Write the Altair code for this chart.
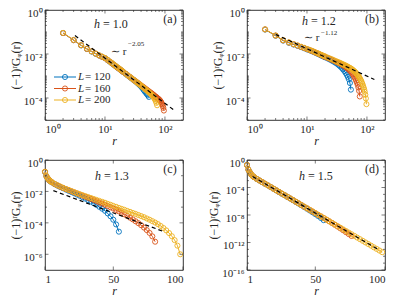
import altair as alt
import pandas as pd

LABELS = ["L = 120", "L = 160", "L = 200"]
COLORS = ["#0072BD", "#D95319", "#EDB120"]
FONT = "Liberation Serif"
INK = "#262626"
W, H = 138, 110


def rr(a, b, step=1):
    return list(range(a, b + 1, step))


# ---------------- Panel (a): h = 1.0  (log10 of (-1)^r G) ----------------
A_R = [rr(2, 20) + rr(22, 54, 2), rr(2, 20) + rr(22, 96, 2), rr(2, 20) + rr(22, 74, 2)]
A_G_120 = [-1.05, -1.37, -1.61, -1.77, -1.89, -1.99, -2.07, -2.13, -2.19, -2.27, -2.35, -2.42, -2.49,
           -2.55, -2.61, -2.66, -2.71, -2.76, -2.81,
           -2.90, -2.98, -3.05, -3.12, -3.18, -3.24, -3.30, -3.36, -3.42, -3.48, -3.55, -3.63, -3.70,
           -3.76, -3.82, -3.88, -3.95]
A_G_160 = [-1.05, -1.37, -1.60, -1.77, -1.88, -1.98, -2.07, -2.13, -2.19, -2.27, -2.34, -2.42, -2.48,
           -2.55, -2.61, -2.66, -2.71, -2.76, -2.81,
           -2.89, -2.97, -3.04, -3.11, -3.17, -3.23, -3.28, -3.33, -3.38, -3.43, -3.47, -3.51, -3.55,
           -3.59, -3.63, -3.66, -3.70, -3.73, -3.76, -3.79, -3.82, -3.85, -3.88, -3.91, -3.94, -3.96,
           -3.99, -4.02, -4.04, -4.07, -4.10, -4.14, -4.18, -4.23, -4.29, -4.36, -4.45, -4.57]
A_G_200 = [-1.04, -1.36, -1.60, -1.76, -1.88, -1.98, -2.06, -2.12, -2.18, -2.26, -2.34, -2.41, -2.48,
           -2.54, -2.60, -2.65, -2.70, -2.75, -2.80,
           -2.89, -2.97, -3.04, -3.11, -3.17, -3.23, -3.29, -3.34, -3.39, -3.44, -3.49, -3.53, -3.58,
           -3.62, -3.66, -3.70, -3.74, -3.78, -3.82, -3.86, -3.90, -3.95, -4.00, -4.06, -4.13, -4.22,
           -4.33]
A_FIT_R = [3.16, 138]
A_FIT_G = [-1.16, -4.53]

# ---------------- Panel (b): h = 1.2 ----------------
B_R = [rr(2, 20) + rr(22, 54, 2), rr(2, 20) + rr(22, 76, 2), rr(2, 20) + rr(22, 98, 2)]
B_G_120 = [-0.89, -1.17, -1.39, -1.49, -1.57, -1.63, -1.69, -1.74, -1.79, -1.83, -1.87, -1.91, -1.95,
           -1.99, -2.02, -2.06, -2.09, -2.12, -2.15,
           -2.20, -2.25, -2.30, -2.35, -2.40, -2.45, -2.51, -2.57, -2.63, -2.70, -2.77, -2.85, -2.94,
           -3.04, -3.15, -3.32, -3.62]
B_G_160 = [-0.88, -1.16, -1.38, -1.48, -1.56, -1.62, -1.68, -1.73, -1.78, -1.82, -1.86, -1.90, -1.94,
           -1.97, -2.01, -2.04, -2.07, -2.10, -2.13,
           -2.18, -2.22, -2.26, -2.30, -2.34, -2.38, -2.41, -2.45, -2.48, -2.52, -2.55, -2.59, -2.63,
           -2.67, -2.71, -2.76, -2.80, -2.85, -2.92, -2.99, -3.06, -3.13, -3.21, -3.30, -3.40, -3.52,
           -3.68, -3.93]
B_G_200 = [-0.88, -1.16, -1.37, -1.47, -1.55, -1.61, -1.67, -1.72, -1.77, -1.81, -1.85, -1.89, -1.93,
           -1.96, -2.00, -2.03, -2.06, -2.09, -2.11,
           -2.16, -2.20, -2.24, -2.28, -2.32, -2.35, -2.38, -2.41, -2.44, -2.47, -2.50, -2.52, -2.55,
           -2.58, -2.61, -2.63, -2.66, -2.69, -2.72, -2.76, -2.79, -2.83, -2.87, -2.91, -2.95, -3.00,
           -3.05, -3.10, -3.16, -3.22, -3.29, -3.36, -3.44, -3.52, -3.61, -3.72, -3.85, -4.02, -4.28]
B_FIT_R = [3, 133]
B_FIT_G = [-1.11, -3.16]

# ---------------- Panel (c): h = 1.3 ----------------
C_R = [rr(1, 6) + rr(8, 54, 2), rr(1, 6) + rr(8, 80, 2), rr(1, 6) + rr(8, 98, 2)]
C_G_120 = [-0.76, -1.03, -1.19, -1.29, -1.37, -1.43,
           -1.54, -1.63, -1.72, -1.80, -1.88, -1.96, -2.04, -2.12, -2.20, -2.28, -2.37, -2.46, -2.55,
           -2.65, -2.75, -2.86, -2.98, -3.10, -3.23, -3.40, -3.58, -3.80, -4.10, -4.56]
C_G_160 = [-0.75, -1.02, -1.18, -1.29, -1.36, -1.42,
           -1.53, -1.62, -1.70, -1.78, -1.85, -1.92, -1.99, -2.06, -2.13, -2.20, -2.27, -2.34, -2.41,
           -2.48, -2.55, -2.62, -2.70, -2.77, -2.85, -2.93, -3.01, -3.09, -3.18, -3.27, -3.36, -3.46,
           -3.56, -3.67, -3.78, -3.90, -4.02, -4.15, -4.30, -4.46, -4.64, -4.86, -5.20]
C_G_200 = [-0.75, -1.02, -1.18, -1.28, -1.36, -1.42,
           -1.52, -1.61, -1.69, -1.77, -1.84, -1.91, -1.98, -2.05, -2.12, -2.18, -2.24, -2.30, -2.36,
           -2.42, -2.48, -2.54, -2.60, -2.66, -2.72, -2.79, -2.85, -2.92, -2.98, -3.05, -3.11, -3.17,
           -3.24, -3.30, -3.37, -3.43, -3.50, -3.57, -3.64, -3.72, -3.80, -3.89, -3.98, -4.08, -4.20,
           -4.33, -4.48, -4.65, -4.85, -5.10, -5.45, -6.00]
C_FIT_R = [7, 86]
C_FIT_G = [-1.95, -4.55]

# ---------------- Panel (d): h = 1.5 ----------------
D_R = [rr(1, 6) + rr(8, 56, 2), rr(1, 6) + rr(8, 76, 2), rr(1, 6) + rr(8, 98, 2)]
D_G_120 = [-0.74, -1.41, -1.81, -2.09, -2.31, -2.49,
           -2.76, -2.99, -3.23, -3.46, -3.70, -3.94, -4.18, -4.42, -4.66, -4.90, -5.13, -5.37, -5.61,
           -5.85, -6.09, -6.33, -6.58, -6.83, -7.08, -7.34, -7.60, -7.87, -8.14, -8.43, -8.75]
D_G_160 = [-0.73, -1.40, -1.80, -2.08, -2.30, -2.48,
           -2.75, -2.98, -3.22, -3.45, -3.69, -3.93, -4.17, -4.41, -4.64, -4.88, -5.12, -5.35, -5.59,
           -5.83, -6.07, -6.30, -6.54, -6.78, -7.02, -7.25, -7.49, -7.73, -7.97, -8.20, -8.44, -8.68,
           -8.92, -9.16, -9.42, -9.68, -9.95, -10.22, -10.50, -10.78, -11.05]
D_G_200 = [-0.73, -1.40, -1.80, -2.08, -2.30, -2.48,
           -2.75, -2.98, -3.22, -3.45, -3.69, -3.93, -4.17, -4.40, -4.64, -4.88, -5.11, -5.35, -5.59,
           -5.82, -6.06, -6.30, -6.54, -6.77, -7.01, -7.25, -7.48, -7.72, -7.96, -8.19, -8.43, -8.67,
           -8.91, -9.14, -9.38, -9.62, -9.85, -10.09, -10.33, -10.56, -10.80, -11.04, -11.28, -11.51,
           -11.75, -11.99, -12.22, -12.46, -12.70, -12.93, -13.17, -13.41]
D_FIT_R = [5, 95]
D_FIT_G = [-2.40, -13.00]

# axis ticks / labels
X_LOG_VALUES = [1, 10, 100]
X_LOG_LABELS = ["10⁰", "10¹", "10²"]
X_LOG_MINOR = [2, 3, 4, 5, 6, 7, 8, 9, 20, 30, 40, 50, 60, 70, 80, 90]
X_LIN_VALUES = [1, 50, 100]
Y_AB_VALUES = [1, 1e-2, 1e-4]
Y_AB_LABELS = ["10⁰", "10⁻²", "10⁻⁴"]
Y_AB_MINOR = [m * 10.0 ** k for k in range(-5, 0) for m in range(1, 10)
              if not (m == 1 and k in (-2, -4))]
Y_C_VALUES = [1, 1e-2, 1e-4, 1e-6]
Y_C_LABELS = ["10⁰", "10⁻²", "10⁻⁴", "10⁻⁶"]
Y_C_MINOR = [1e-1, 1e-3, 1e-5]
Y_D_VALUES = [1, 1e-4, 1e-8, 1e-12, 1e-16]
Y_D_LABELS = ["10⁰", "10⁻⁴", "10⁻⁸", "10⁻¹²", "10⁻¹⁶"]
Y_D_MINOR = [10.0 ** k for k in range(-15, 0) if k % 4 != 0]

Y_TITLE = "(−1)ʳGᵩ(r)"


def make_df(r_lists, g_lists):
    rows = []
    for k, (lab, rs, gs) in enumerate(zip(LABELS, r_lists, g_lists)):
        assert len(rs) == len(gs), (lab, len(rs), len(gs))
        for r, g in zip(rs, gs):
            rows.append({"r": r, "G": 10 ** g, "L": lab, "k": k})
    return pd.DataFrame(rows)


def label_expr(values, labels):
    expr = "'" + labels[-1] + "'"
    for v, lab in reversed(list(zip(values[:-1], labels[:-1]))):
        expr = f"datum.value > {v / 3:.3e} ? '{lab}' : ({expr})"
    return expr


ONE = pd.DataFrame({"a": [0]})


def txt(text, x, y, size=11, style="normal", align="left"):
    return alt.Chart(ONE).mark_text(
        text=text, fontSize=size, fontStyle=style, align=align, baseline="middle",
        font=FONT, color=INK
    ).encode(x=alt.value(x), y=alt.value(y))


def tick_layers(x, y, xmaj, xmin, ymaj, ymin):
    out = []
    for vals, ln in ((xmaj, 3.5), (xmin, 2)):
        if vals:
            d = pd.DataFrame({"r": vals})
            rule = alt.Chart(d).mark_rule(color=INK, strokeWidth=0.6)
            out.append(rule.encode(x=x, y=alt.value(H), y2=alt.value(H - ln)))
            out.append(rule.encode(x=x, y=alt.value(0), y2=alt.value(ln)))
    for vals, ln in ((ymaj, 3.5), (ymin, 2)):
        if vals:
            d = pd.DataFrame({"G": vals})
            rule = alt.Chart(d).mark_rule(color=INK, strokeWidth=0.6)
            out.append(rule.encode(y=y, x=alt.value(0), x2=alt.value(ln)))
            out.append(rule.encode(y=y, x=alt.value(W), x2=alt.value(W - ln)))
    return out


def panel(df, fit_r, fit_g, xlog, ydom, yvals, ylabels, yminor, letter, hval, hx, hy, extra):
    if xlog:
        xs = alt.Scale(type="log", domain=[1, 200])
        xa = alt.Axis(values=X_LOG_VALUES, labelExpr=label_expr(X_LOG_VALUES[::-1], X_LOG_LABELS[::-1]),
                      title="r", titleFontStyle="italic", labelPadding=3, titlePadding=1)
        xmaj, xmin = X_LOG_VALUES, X_LOG_MINOR
    else:
        xs = alt.Scale(domain=[1, 100])
        xa = alt.Axis(values=X_LIN_VALUES, title="r", titleFontStyle="italic",
                      labelPadding=3, titlePadding=1)
        xmaj, xmin = X_LIN_VALUES, []
    ys = alt.Scale(type="log", domain=ydom)
    ya = alt.Axis(values=yvals, labelExpr=label_expr(yvals, ylabels), title=Y_TITLE,
                  labelOffset=3, labelPadding=3, titlePadding=1)
    x = alt.X("r:Q", scale=xs, axis=xa)
    y = alt.Y("G:Q", scale=ys, axis=ya)
    color = alt.Color("L:N", scale=alt.Scale(domain=LABELS, range=COLORS), legend=None)
    base = alt.Chart(df)
    lines = base.mark_line(strokeWidth=1).encode(x=x, y=y, color=color)
    pts = base.mark_point(filled=False, size=26, strokeWidth=0.9, opacity=1).encode(
        x=x, y=y, color=color)
    fit_df = pd.DataFrame({"r": fit_r, "G": [10 ** g for g in fit_g]})
    fit = alt.Chart(fit_df).mark_line(color="black", strokeDash=[4, 3], strokeWidth=1.2).encode(x=x, y=y)
    ann = [
        txt("h", hx, hy, 12, "italic", "right"),
        txt("= " + hval, hx + 3, hy, 12),
        txt("(" + letter + ")", 125, 9, 12, "normal", "center"),
    ]
    ticks = tick_layers(x, y, xmaj, xmin, yvals, yminor)
    return alt.layer(lines, pts, fit, *ticks, *ann, *extra).properties(width=W, height=H)


def legend_layers():
    out = []
    for i, (lab, col) in enumerate(zip(LABELS, COLORS)):
        yy = 67 + 11.5 * i
        out.append(alt.Chart(ONE).mark_rule(color=col, strokeWidth=1).encode(
            x=alt.value(9), x2=alt.value(31), y=alt.value(yy)))
        out.append(alt.Chart(ONE).mark_point(color=col, filled=False, size=26, strokeWidth=0.9,
                                            opacity=1).encode(x=alt.value(20), y=alt.value(yy)))
        out.append(txt("L", 33, yy, 11, "italic"))
        out.append(txt(lab[1:], 40, yy, 11))
    return out


pa = panel(make_df(A_R, [A_G_120, A_G_160, A_G_200]), A_FIT_R, A_FIT_G, True, [1e-5, 1],
           Y_AB_VALUES, Y_AB_LABELS, Y_AB_MINOR, "a", "1.0", 55, 14,
           [txt("∼ r", 66, 42, 11), txt("−2.05", 83, 34, 7)] + legend_layers())
pb = panel(make_df(B_R, [B_G_120, B_G_160, B_G_200]), B_FIT_R, B_FIT_G, True, [1e-5, 1],
           Y_AB_VALUES, Y_AB_LABELS, Y_AB_MINOR, "b", "1.2", 61, 11,
           [txt("∼ r", 57, 28, 11), txt("−1.12", 74, 23, 7)])
pc = panel(make_df(C_R, [C_G_120, C_G_160, C_G_200]), C_FIT_R, C_FIT_G, False, [1e-7, 1],
           Y_C_VALUES, Y_C_LABELS, Y_C_MINOR, "c", "1.3", 56, 16, [])
pd_ = panel(make_df(D_R, [D_G_120, D_G_160, D_G_200]), D_FIT_R, D_FIT_G, False, [1e-16, 1],
            Y_D_VALUES, Y_D_LABELS, Y_D_MINOR, "d", "1.5", 58, 16, [])

chart = alt.concat(pa, pb, pc, pd_, columns=2, spacing={"row": 40, "column": 64},
                   bounds="flush").properties(
    padding={"left": 0, "top": -2, "right": 0, "bottom": 0}
).configure_view(
    stroke="#000000", strokeWidth=0.8
).configure_axis(
    labelFont=FONT, titleFont=FONT, labelFontSize=11, titleFontSize=12, titleFontWeight="normal",
    labelColor=INK, titleColor=INK, domain=False, ticks=False, grid=False
)

chart.save("out.html", embed_options={"renderer": "svg", "actions": False})
